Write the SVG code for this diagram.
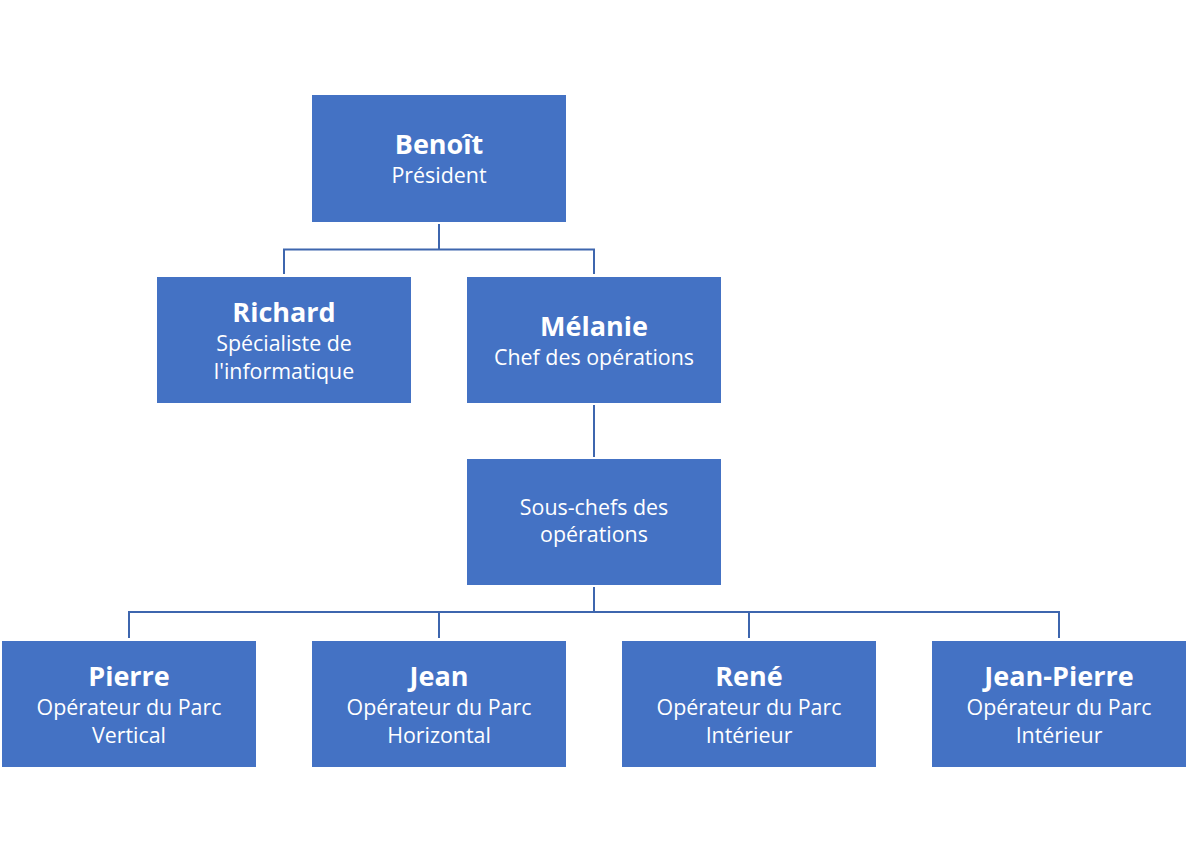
<svg xmlns="http://www.w3.org/2000/svg" width="1188" height="863" viewBox="0 0 1188 863">
<style>
.box{fill:#4472C4}
.t{font-family:"Open Sans","Noto Sans",sans-serif;fill:#FFFFFF;text-anchor:middle;font-size:21.4px}
.b{font-weight:bold;font-size:27px}
.c{fill:none;stroke:#3E66AE;stroke-width:2}
</style>
<rect width="1188" height="863" fill="#FFFFFF"/>
<g id="connectors">
<path class="c" d="M439 224V249.5M284 274V249.5H594V274"/>
<path class="c" d="M594 405V457"/>
<path class="c" d="M594 587V612M129 638V612H1059V638M439 612V638M749 612V638"/>
</g>
<g id="benoit">
<rect class="box" x="312" y="95" width="254" height="127"/>
<text class="t b" x="439" y="154">Benoît</text>
<text class="t" x="439" y="183">Président</text>
</g>
<g id="richard">
<rect class="box" x="157" y="277" width="254" height="126"/>
<text class="t b" x="284" y="322">Richard</text>
<text class="t" x="284" y="351">Spécialiste de</text>
<text class="t" x="284" y="379">l'informatique</text>
</g>
<g id="melanie">
<rect class="box" x="467" y="277" width="254" height="126"/>
<text class="t b" x="594" y="336">Mélanie</text>
<text class="t" x="594" y="365">Chef des opérations</text>
</g>
<g id="souschefs">
<rect class="box" x="467" y="459" width="254" height="126"/>
<text class="t" x="594" y="515">Sous-chefs des</text>
<text class="t" x="594" y="542">opérations</text>
</g>
<g id="pierre">
<rect class="box" x="2" y="641" width="254" height="126"/>
<text class="t b" x="129" y="686">Pierre</text>
<text class="t" x="129" y="715">Opérateur du Parc</text>
<text class="t" x="129" y="743">Vertical</text>
</g>
<g id="jean">
<rect class="box" x="312" y="641" width="254" height="126"/>
<text class="t b" x="439" y="686">Jean</text>
<text class="t" x="439" y="715">Opérateur du Parc</text>
<text class="t" x="439" y="743">Horizontal</text>
</g>
<g id="rene">
<rect class="box" x="622" y="641" width="254" height="126"/>
<text class="t b" x="749" y="686">René</text>
<text class="t" x="749" y="715">Opérateur du Parc</text>
<text class="t" x="749" y="743">Intérieur</text>
</g>
<g id="jeanpierre">
<rect class="box" x="932" y="641" width="254" height="126"/>
<text class="t b" x="1059" y="686">Jean-Pierre</text>
<text class="t" x="1059" y="715">Opérateur du Parc</text>
<text class="t" x="1059" y="743">Intérieur</text>
</g>
</svg>
